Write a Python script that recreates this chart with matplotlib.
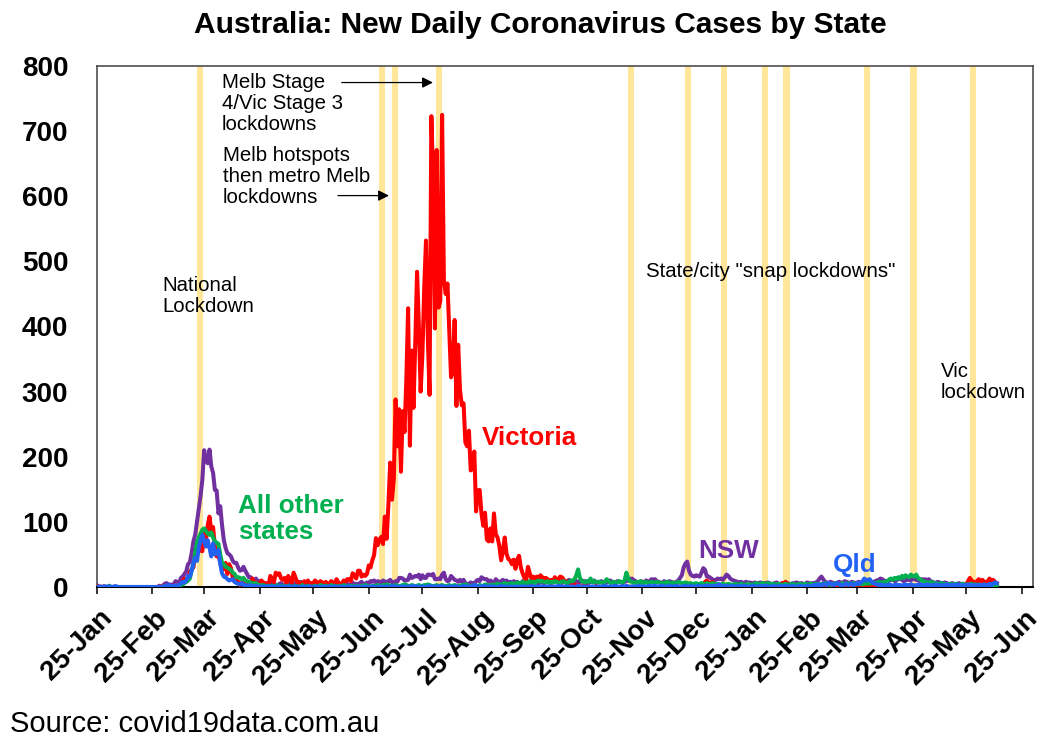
import numpy as np
import matplotlib
matplotlib.use("Agg")
import matplotlib.pyplot as plt
from matplotlib.transforms import ScaledTranslation

plt.rcParams['font.family'] = ['Liberation Sans', 'DejaVu Sans']

# daily new cases, one row per month, starting 25 Jan 2020
start = np.datetime64('2020-01-25')

victoria = [
    1, 0, 0, 0, 1, 0, 0,
    1, 0, 0, 0, 0, 0, 0, 0, 0, 0, 0, 0, 0, 0, 0, 0, 0, 0, 0, 0, 0, 0, 0, 0, 0, 0, 0, 0, 2,
    0, 2, 1, 1, 1, 1, 1, 1, 4, 2, 2, 3, 9, 13, 8, 14, 23, 27, 30, 49, 51, 67, 56, 55, 87, 72, 95, 108, 86, 92, 62,
    47, 50, 37, 30, 27, 37, 20, 35, 29, 14, 8, 10, 8, 3, 7, 8, 1, 3, 6, 3, 13, 3, 7, 5, 2, 10, 7, 6, 1, 3,
    17, 13, 7, 22, 19, 21, 13, 11, 14, 6, 17, 10, 7, 22, 15, 7, 7, 6, 4, 9, 5, 10, 5, 6, 5, 10, 7, 6, 9, 7, 5,
    8, 4, 5, 9, 7, 5, 12, 7, 4, 5, 10, 8, 12, 12, 9, 21, 18, 13, 25, 25, 16, 19, 17, 20, 33, 30, 41, 49, 75, 64,
    73, 77, 66, 108, 74, 127, 191, 134, 165, 288, 216, 273, 177, 270, 238, 317, 428, 217, 363, 275,
    374, 484, 403, 300, 357, 459, 532, 384, 295, 723, 627,
    397, 671, 429, 439, 725, 471, 450, 466, 394, 322, 331, 410, 278, 372, 303, 279, 282, 222, 216, 240,
    179, 182, 208, 116, 148, 149, 113, 94, 114, 73, 70,
    90, 70, 113, 81, 76, 63, 41, 55, 76, 51, 43, 41, 35, 42, 28, 42, 48, 30, 21, 14, 11, 31, 21, 12, 16, 12, 16, 10, 18, 15,
    13, 14, 12, 7, 11, 8, 15, 11, 12, 16, 15, 11, 9, 8, 2, 2, 1, 4, 1, 3, 0, 1, 1, 7, 0, 0, 0, 0, 0, 2, 0,
    0, 0, 0, 1, 0, 0, 0, 0, 0, 0, 0, 0, 0, 0, 0, 0, 0, 0, 0, 0, 0, 0, 0, 0, 0, 0, 0, 0, 0, 0,
    0, 1, 0, 0, 0, 0, 0, 1, 0, 2, 0, 1, 0, 0, 1, 0, 0, 0, 2, 1, 1, 2, 3, 2, 1, 0, 1, 3, 2, 8, 10,
    7, 3, 8, 5, 3, 4, 3, 2, 1, 0, 1, 0, 0, 1, 2, 1, 0, 1, 2, 0, 1, 0, 1, 0, 0, 1, 0, 2, 1, 0, 1,
    1, 0, 3, 2, 1, 0, 1, 2, 1, 3, 6, 5, 8, 4, 3, 2, 2, 0, 1, 1, 0, 1, 0, 0, 1, 0, 0, 1,
    1, 0, 1, 0, 0, 1, 0, 2, 1, 0, 1, 0, 1, 0, 0, 2, 1, 0, 1, 0, 1, 0, 0, 2, 1, 1, 0, 1, 2, 0, 1,
    1, 0, 2, 1, 0, 0, 1, 0, 1, 2, 0, 1, 0, 0, 2, 1, 0, 1, 0, 1, 0, 2, 1, 0, 1, 0, 1, 0, 1, 0,
    0, 1, 0, 1, 0, 1, 0, 2, 1, 0, 1, 0, 0, 1, 0, 0, 1, 0, 0, 1, 0, 0, 1, 2, 5, 9, 14, 10, 8, 7, 9,
    12, 7, 11, 8, 6, 9, 13, 8, 11, 8, 6,
]

nsw = [
    3, 0, 1, 0, 0, 0, 0,
    0, 0, 0, 1, 0, 0, 0, 0, 0, 0, 0, 0, 0, 0, 0, 0, 0, 0, 0, 0, 0, 0, 0, 0, 0, 0, 0, 0, 1,
    1, 2, 5, 6, 3, 4, 3, 4, 9, 8, 5, 14, 16, 20, 24, 35, 38, 52, 70, 80,
    100, 120, 140, 165, 210, 195, 190, 211, 185, 175, 149,
    148, 113, 124, 95, 72, 60, 52, 50, 47, 40, 37, 37, 30, 25, 26, 31, 25, 20, 15, 15, 12, 10, 13, 8, 9, 6, 5, 4, 6, 5,
    4, 6, 3, 3, 2, 5, 6, 3, 2, 4, 3, 5, 3, 2, 6, 3, 4, 8, 5, 3, 4, 3, 2, 5, 3, 4, 2, 5, 3, 4, 6,
    3, 5, 2, 4, 3, 2, 5, 3, 2, 6, 4, 3, 5, 2, 4, 7, 3, 5, 4, 6, 8, 4, 5, 7, 6, 9, 8, 10, 7, 9,
    8, 7, 10, 8, 8, 9, 11, 7, 6, 9, 8, 14, 14, 13, 10, 10, 11, 19, 14, 15, 17, 16, 19, 12, 18, 14, 14, 19, 19, 18, 20,
    12, 12, 13, 12, 19, 22, 12, 9, 10, 17, 14, 11, 10, 8, 11, 8, 11, 6, 4, 5, 7, 6, 4, 9, 11, 9, 15, 13, 12, 12, 8,
    10, 8, 6, 12, 9, 7, 9, 11, 8, 10, 7, 8, 6, 9, 7, 8, 6, 5, 9, 7, 6, 8, 5, 6, 7, 9, 6, 5, 8, 7,
    6, 8, 7, 9, 6, 7, 10, 8, 7, 9, 6, 8, 7, 9, 11, 8, 7, 6, 9, 8, 7, 10, 8, 9, 7, 6, 8, 9, 10, 7, 8,
    7, 9, 6, 8, 7, 9, 10, 8, 6, 7, 9, 8, 7, 6, 8, 9, 10, 12, 13, 11, 9, 8, 7, 9, 8, 7, 10, 9, 8, 12,
    11, 12, 9, 8, 7, 6, 9, 8, 7, 9, 8, 6, 7, 8, 10, 14, 18, 30, 36, 39, 25, 19, 17, 16, 18, 17, 16, 22, 29, 26, 16,
    16, 14, 12, 10, 11, 13, 12, 13, 11, 15, 19, 17, 13, 11, 10, 9, 8, 7, 8, 6, 7, 8, 6, 7, 5, 6, 7, 5, 6, 7, 5,
    6, 5, 7, 6, 4, 5, 6, 7, 5, 4, 6, 5, 7, 6, 5, 4, 6, 5, 7, 6, 5, 6, 4, 5, 7, 6, 5, 6,
    6, 7, 9, 13, 16, 12, 8, 7, 6, 8, 7, 6, 5, 7, 8, 6, 7, 9, 8, 7, 6, 8, 7, 6, 7, 8, 6, 7, 9, 8, 10,
    9, 8, 7, 9, 10, 11, 13, 12, 10, 9, 8, 10, 12, 11, 9, 10, 13, 12, 11, 9, 10, 12, 11, 10, 13, 12, 11, 10, 9, 12,
    11, 12, 10, 12, 9, 8, 7, 6, 8, 7, 6, 5, 7, 6, 5, 4, 6, 5, 4, 5, 6, 4, 5, 3, 4, 5, 3, 4, 5, 4, 3,
    4, 3, 5, 4, 3, 4, 5, 3, 4, 3, 4,
]

qld = [
    0, 0, 0, 0, 1, 1, 0,
    1, 0, 0, 1, 1, 0, 0, 0, 0, 0, 0, 0, 0, 0, 0, 0, 0, 0, 0, 0, 0, 0, 0, 0, 0, 0, 0, 0, 1,
    0, 1, 1, 2, 3, 2, 1, 1, 3, 2, 3, 5, 8, 7, 10, 17, 16, 25, 37, 45, 40, 60, 72, 80, 70, 62, 72, 60, 47, 67, 50,
    52, 57, 35, 21, 16, 15, 12, 10, 11, 12, 8, 6, 5, 4, 6, 3, 3, 2, 2, 3, 1, 1, 2, 1, 0, 1, 0, 1, 0, 1,
    1, 0, 1, 0, 0, 1, 0, 0, 1, 0, 1, 0, 0, 0, 1, 0, 0, 0, 0, 1, 0, 0, 1, 0, 0, 0, 1, 0, 0, 0, 1,
    0, 0, 1, 0, 0, 1, 0, 0, 0, 1, 0, 0, 0, 1, 0, 0, 0, 0, 1, 0, 0, 0, 1, 0, 0, 0, 1, 0, 0, 0,
    0, 1, 0, 0, 1, 0, 0, 2, 0, 1, 0, 0, 1, 0, 1, 0, 0, 1, 0, 2, 0, 1, 0, 0, 1, 0, 0, 1, 2, 0, 1,
    0, 1, 0, 2, 0, 1, 0, 0, 1, 0, 1, 0, 1, 0, 0, 0, 2, 0, 1, 0, 1, 0, 3, 2, 1, 0, 1, 2, 1, 0, 1,
    1, 0, 1, 0, 0, 1, 2, 0, 1, 0, 0, 1, 0, 0, 1, 0, 0, 1, 0, 1, 0, 0, 1, 0, 1, 0, 0, 1, 0, 1,
    0, 1, 0, 1, 0, 0, 1, 0, 2, 1, 0, 0, 1, 0, 1, 0, 1, 0, 0, 2, 1, 0, 1, 0, 1, 0, 0, 1, 0, 1, 0,
    1, 0, 1, 2, 1, 0, 1, 0, 1, 2, 1, 0, 1, 1, 0, 2, 1, 0, 1, 1, 0, 1, 2, 1, 0, 1, 1, 0, 2, 1,
    1, 2, 0, 1, 1, 2, 1, 0, 1, 2, 1, 1, 0, 2, 1, 0, 1, 1, 2, 0, 1, 2, 1, 0, 1, 2, 1, 1, 0, 2, 1,
    2, 1, 1, 2, 1, 3, 4, 2, 1, 1, 2, 0, 1, 2, 1, 1, 0, 2, 1, 1, 2, 1, 0, 1, 1, 2, 1, 0, 1, 2, 1,
    1, 2, 1, 0, 1, 2, 1, 1, 0, 2, 1, 1, 2, 0, 1, 1, 2, 1, 0, 1, 2, 1, 1, 0, 2, 1, 1, 2,
    3, 2, 4, 3, 2, 5, 4, 3, 6, 5, 4, 3, 5, 6, 4, 3, 2, 4, 5, 3, 4, 5, 3, 4, 6, 5, 7, 9, 13, 10, 11,
    12, 8, 6, 5, 4, 3, 4, 3, 2, 3, 2, 4, 3, 2, 3, 4, 2, 3, 2, 3, 4, 2, 3, 4, 3, 2, 3, 2, 4, 3,
    3, 2, 4, 3, 2, 3, 2, 4, 3, 2, 3, 2, 3, 4, 2, 3, 2, 3, 2, 4, 3, 2, 3, 2, 3, 4, 3, 2, 3, 2, 3,
    2, 3, 2, 4, 3, 2, 5, 3, 5, 7, 6,
]

other_states = [
    0, 0, 0, 0, 0, 0, 0,
    2, 0, 0, 0, 0, 0, 0, 0, 0, 0, 0, 0, 0, 0, 0, 0, 0, 0, 0, 0, 0, 0, 0, 0, 0, 0, 0, 0, 0,
    0, 1, 1, 1, 2, 1, 1, 0, 1, 2, 1, 3, 4, 6, 8, 10, 13, 25, 35, 52, 68, 76, 82, 88, 90, 86, 82, 80, 84, 76, 70,
    68, 66, 50, 37, 35, 31, 30, 28, 26, 22, 20, 15, 15, 14, 12, 14, 10, 9, 8, 7, 6, 5, 6, 4, 3, 2, 3, 2, 1, 2,
    1, 2, 0, 1, 3, 1, 0, 2, 1, 0, 2, 1, 0, 1, 2, 0, 1, 0, 3, 1, 0, 2, 1, 0, 1, 2, 0, 1, 3, 2, 1,
    2, 1, 0, 3, 1, 2, 1, 0, 2, 1, 3, 2, 1, 0, 2, 1, 1, 2, 0, 1, 2, 1, 3, 2, 1, 0, 2, 1, 2, 3,
    2, 1, 3, 2, 4, 3, 2, 1, 2, 3, 2, 1, 2, 3, 4, 3, 2, 1, 3, 2, 1, 2, 3, 2, 1, 3, 2, 4, 3, 2, 1,
    2, 3, 1, 2, 3, 2, 1, 2, 3, 1, 2, 3, 2, 1, 2, 3, 2, 4, 3, 2, 1, 2, 3, 2, 1, 3, 2, 1, 4, 3, 2,
    3, 2, 4, 3, 5, 4, 3, 5, 6, 4, 5, 4, 6, 5, 4, 7, 6, 5, 8, 6, 7, 6, 9, 7, 8, 6, 9, 10, 8, 9,
    8, 7, 9, 6, 8, 7, 9, 8, 6, 7, 8, 9, 7, 6, 8, 10, 9, 12, 18, 27, 14, 9, 8, 7, 9, 8, 13, 7, 9, 8, 7,
    8, 7, 6, 8, 12, 9, 6, 7, 8, 6, 7, 9, 8, 7, 10, 22, 14, 9, 8, 7, 6, 8, 7, 9, 6, 7, 8, 6, 7, 8,
    7, 6, 8, 7, 6, 5, 7, 6, 8, 5, 6, 7, 5, 6, 8, 7, 6, 5, 7, 6, 5, 6, 4, 5, 6, 4, 5, 6, 5, 4, 6,
    5, 4, 6, 5, 4, 5, 3, 4, 5, 4, 3, 5, 4, 3, 4, 5, 3, 4, 5, 3, 4, 3, 5, 4, 3, 4, 5, 6, 4, 5, 6,
    5, 4, 6, 5, 4, 5, 4, 3, 5, 4, 3, 4, 5, 3, 4, 3, 5, 4, 3, 4, 5, 3, 4, 5, 3, 4, 5, 4,
    4, 5, 3, 4, 5, 4, 6, 5, 4, 3, 5, 4, 6, 5, 4, 5, 6, 4, 5, 6, 4, 5, 6, 5, 4, 6, 5, 4, 6, 5, 6,
    5, 6, 7, 5, 6, 8, 7, 6, 8, 7, 9, 12, 13, 11, 14, 12, 15, 13, 17, 14, 18, 16, 15, 19, 17, 16, 19, 14, 12, 10,
    9, 8, 7, 6, 8, 7, 5, 6, 4, 5, 6, 4, 5, 3, 4, 5, 3, 4, 5, 4, 3, 4, 5, 3, 4, 3, 4, 5, 3, 4, 3,
    4, 3, 2, 4, 3, 2, 3, 4, 2, 3, 2,
]

# lockdown dates (yellow bands)
lockdowns = ['2020-03-22', '2020-07-02', '2020-07-09', '2020-08-03', '2020-11-18',
             '2020-12-20', '2021-01-09', '2021-02-01', '2021-02-13', '2021-03-30',
             '2021-04-25', '2021-05-28']

months = np.arange('2020-01', '2021-07', dtype='datetime64[M]')
tick_dates = months.astype('datetime64[D]') + np.timedelta64(24, 'D')
tick_labels = ['25-' + m for m in ['Jan', 'Feb', 'Mar', 'Apr', 'May', 'Jun', 'Jul', 'Aug', 'Sep',
                                   'Oct', 'Nov', 'Dec', 'Jan', 'Feb', 'Mar', 'Apr', 'May', 'Jun']]

RED = '#FF0000'
PURPLE = '#7030A0'
GREEN = '#00B050'
BLUE = '#2162F5'

fig = plt.figure(figsize=(10.52, 7.47), dpi=100)
ax = fig.add_axes([96.8 / 1052, 160 / 747, 935.7 / 1052, 521 / 747])

for d in lockdowns:
    d = np.datetime64(d, 'h')
    ax.axvspan(d - np.timedelta64(29, 'h'), d + np.timedelta64(53, 'h'),
               color='#FFE699', lw=0, zorder=1)


def days(series):
    return start + np.arange(len(series))


for series, col in [(nsw, PURPLE), (victoria, RED), (other_states, GREEN), (qld, BLUE)]:
    ax.plot(days(series), series, color=col, lw=2.9, solid_joinstyle='round', zorder=3)

ax.set_xlim(start, np.datetime64('2021-07-01'))
ax.set_ylim(0, 800)
ax.set_yticks(range(0, 801, 100))
ax.tick_params(axis='y', length=0, pad=20.5, labelsize=20)
for lab in ax.get_yticklabels():
    lab.set_fontweight('bold')

ax.set_xticks(tick_dates)
ax.set_xticklabels(tick_labels, rotation=45, ha='right', va='top',
                   rotation_mode='anchor', fontsize=20, fontweight='bold')
ax.tick_params(axis='x', length=5, width=1.1, direction='out', pad=8)
shift = ScaledTranslation(1.5 / 72, 0, fig.dpi_scale_trans)
for lab in ax.get_xticklabels():
    lab.set_transform(lab.get_transform() + shift)

for side in ['top', 'left', 'right']:
    ax.spines[side].set_color('#404040')
    ax.spines[side].set_linewidth(1.1)
ax.spines['bottom'].set_color('black')
ax.spines['bottom'].set_linewidth(1.5)

t0 = matplotlib.dates.date2num(start)

# annotations
note = dict(fontsize=14.7, va='top', ha='left', linespacing=1.15, zorder=4)
ax.text(t0 + 70.0, 789.6, 'Melb Stage\n4/Vic Stage 3\nlockdowns', **note)
ax.text(t0 + 70.5, 677.4, 'Melb hotspots\nthen metro Melb\nlockdowns', **note)
ax.text(t0 + 36.6, 477.7, 'National\nLockdown', **note)
ax.text(t0 + 306.9, 499.2, 'State/city "snap lockdowns"', **note)
ax.text(t0 + 471.7, 345.6, 'Vic\nlockdown', **note)

arrow = dict(arrowstyle='-|>', color='black', lw=0.9, mutation_scale=16,
             shrinkA=0, shrinkB=0)
ax.annotate('', xy=(t0 + 187.9, 774.6), xytext=(t0 + 136.9, 774.6), arrowprops=arrow)
ax.annotate('', xy=(t0 + 163.3, 601), xytext=(t0 + 134.8, 601), arrowprops=arrow)

lbl = dict(fontsize=18.7, fontweight='bold', va='top', ha='left', linespacing=1.07, zorder=4)
ax.text(t0 + 215.3, 247.3, 'Victoria', color=RED, **lbl)
ax.text(t0 + 78.8, 142.4, 'All other\nstates', color=GREEN, **lbl)
ax.text(t0 + 335.9, 73.3, 'NSW', color=PURPLE, **lbl)
ax.text(t0 + 411.7, 52.7, 'Qld', color=BLUE, **lbl)

fig.text(540.5 / 1052, 1 - 33 / 747, 'Australia: New Daily Coronavirus Cases by State',
         ha='center', va='baseline', fontsize=21.5, fontweight='bold')
fig.text(10 / 1052, 1 - 732 / 747, 'Source: covid19data.com.au',
         ha='left', va='baseline', fontsize=21)

fig.savefig('out.png', dpi=100)
